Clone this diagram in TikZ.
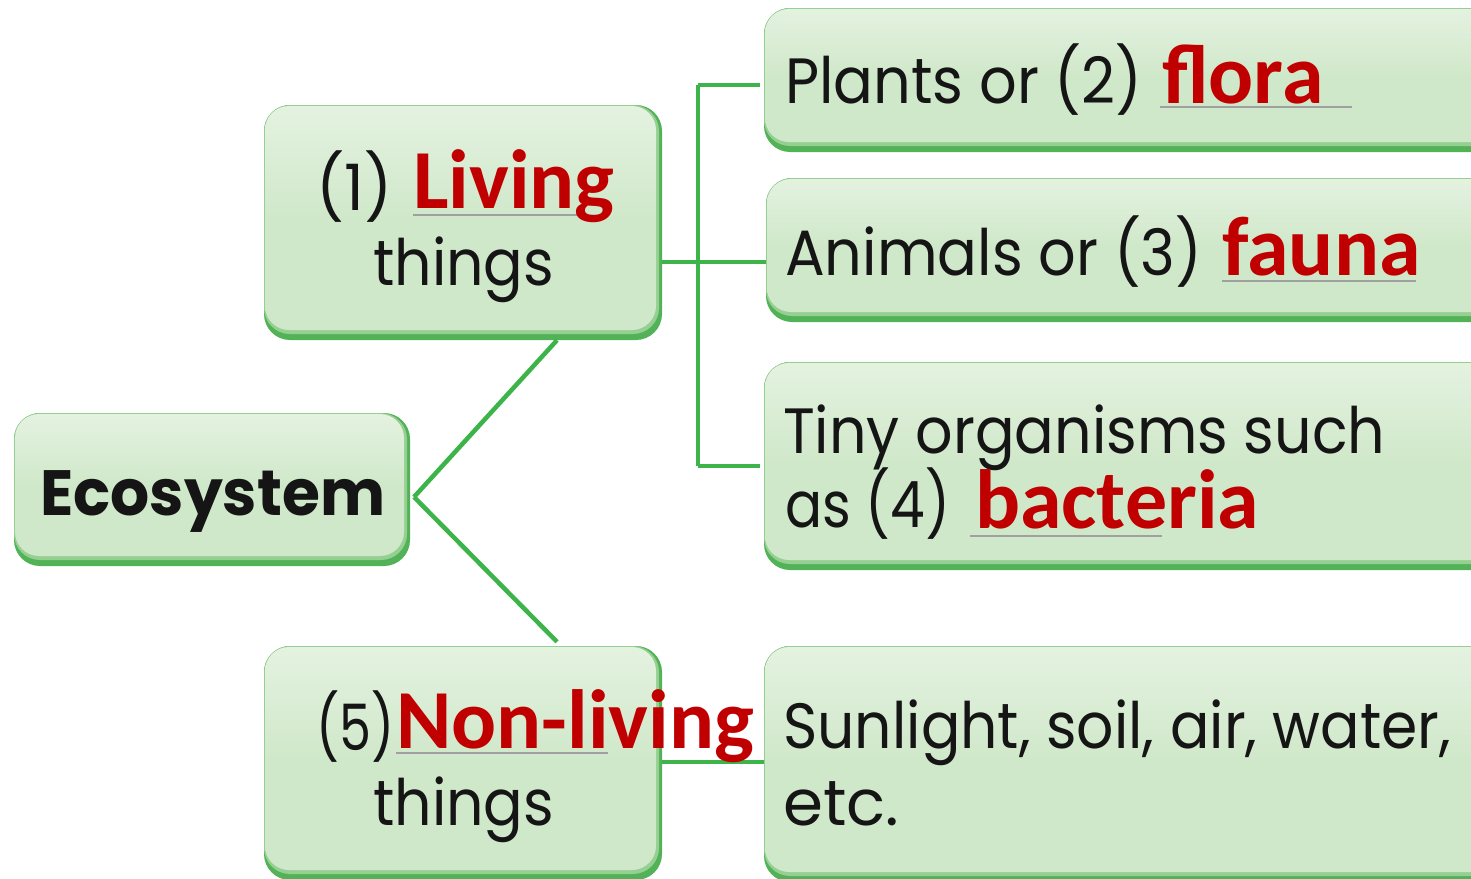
\documentclass[tikz,border=0pt]{standalone}
\usepackage{fontspec}
\usepackage{graphicx}
\setmainfont{Poppins}
\newfontfamily\redfont{Carlito}
\usetikzlibrary{fit}
\definecolor{glight}{HTML}{D0E8CA}
\definecolor{gtop}{HTML}{E4F2E0}
\definecolor{gmid}{HTML}{96CF92}
\definecolor{gdark}{HTML}{52B257}
\definecolor{gline}{HTML}{3CB44A}
\definecolor{redw}{HTML}{C00000}
\definecolor{txt}{HTML}{151515}
\definecolor{ul}{HTML}{A0A0A0}
\newcommand\gbox[5]{%
  \fill[gdark, rounded corners=26pt] (#2,#3) rectangle (#4,#5);
  \fill[gmid, rounded corners=26pt] (#2,#3) rectangle ({#4-3},{#5-6});
  \shade[top color=gtop, bottom color=glight, middle color=glight, rounded corners=24pt] ({#2+1},{#3+1}) rectangle ({#4-6},{#5-10});
  \node[inner sep=0pt, fit={(#2,#3) (#4,#5)}] (#1) {};}
\newcommand\fitw[2]{\resizebox{#1pt}{\height}{#2}}
\tikzset{
  conn/.style={draw=gline, line width=4.5pt},
  blk/.style={anchor=base west, inner sep=0pt, text=txt, font=\fontsize{64}{70}\selectfont},
  redt/.style={anchor=base west, inner sep=0pt, text=redw, font=\redfont\bfseries\fontsize{84}{90}\selectfont},
  eco/.style={anchor=base west, inner sep=0pt, text=txt, font=\bfseries\fontsize{64}{70}\selectfont},
  uline/.style={draw=ul, line width=2.5pt}
}
\begin{document}
\begin{tikzpicture}[x=1pt,y=-1pt]
\useasboundingbox (0,0) rectangle (1471,878);
\clip (0,0) rectangle (1471,878);
% boxes
\gbox{ecob}{14}{413}{410}{566}
\gbox{living}{264}{105}{662}{340}
\gbox{nonliv}{264}{646}{662}{880}
\gbox{plants}{764}{8}{1500}{152}
\gbox{animals}{766}{178}{1500}{322}
\gbox{tiny}{764}{362}{1500}{570}
\gbox{sun}{764}{646}{1500}{882}
% junction coordinates
\coordinate (ej) at (414,497);
\coordinate (jm) at (698,262);
\coordinate (jt) at (698,85);
\coordinate (jb) at (698,466);
\coordinate (nj) at (0,762);
% connectors
\draw[conn] (ej) -- ([xshift=94pt]living.south);
\draw[conn] (ej) -- ([xshift=94pt,yshift=4pt]nonliv.north);
\draw[conn] (living.east |- jm) -- (animals.west |- jm);
\draw[conn] (jt) -- (jb);
\draw[conn] (jt) -- ([xshift=-4pt]plants.west |- jt);
\draw[conn] (jb) -- ([xshift=-4pt]tiny.west |- jb);
\draw[conn] (nonliv.east |- nj) -- (sun.west |- nj);
% underlines
\coordinate (u1a) at (1160,107); \coordinate (u1b) at (1352,107);
\coordinate (u2a) at (1222,281); \coordinate (u2b) at (1416,281);
\coordinate (u3a) at (413,215);  \coordinate (u3b) at (577,215);
\coordinate (u4a) at (970,536);  \coordinate (u4b) at (1162,536);
\coordinate (u5a) at (396,753);  \coordinate (u5b) at (608,753);
\draw[uline] (u1a) -- (u1b);
\draw[uline] (u2a) -- (u2b);
\draw[uline] (u3a) -- (u3b);
\draw[uline] (u4a) -- (u4b);
\draw[uline] (u5a) -- (u5b);
% texts
\node[eco] (tEco) at (40,515) {\fitw{345}{Ecosystem}};
\node[blk] (t1) at (316,210) {\fitw{76}{(1)}};
\node[redt] (r1) at (413,208) {Living};
\node[blk] (t1b) at (373,285) {\fitw{181}{things}};
\node[blk] (t2) at (785,103) {\fitw{357}{Plants or (2)}};
\node[redt] (r2) at (1162,103) {flora};
\node[blk] (t3) at (785,275) {\fitw{417}{Animals or (3)}};
\node[redt] (r3) at (1222,275) {fauna};
\node[blk] (t4) at (783,453) {\fitw{602}{Tiny organisms such}};
\node[blk] (t4b) at (785,527) {\fitw{165}{as (4)}};
\node[redt] (r4) at (975,528) {bacteria};
\node[blk] (t5) at (316,750) {\fitw{78}{(5)}};
\node[redt] (r5) at (396,748) {Non-living};
\node[blk] (t5b) at (373,825) {\fitw{181}{things}};
\node[blk] (t6) at (783,748) {\fitw{668}{Sunlight, soil, air, water,}};
\node[blk] (t6b) at (783,825) {\fitw{116}{etc.}};
\end{tikzpicture}
\end{document}
